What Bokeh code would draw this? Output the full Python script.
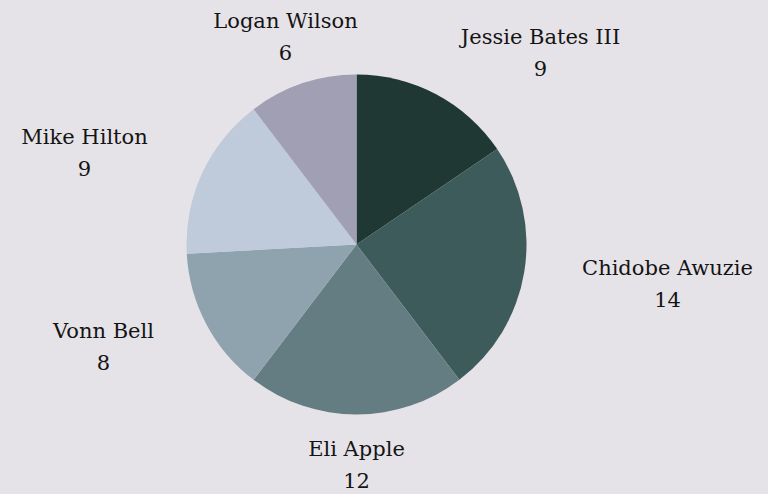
import math
from bokeh.plotting import figure
from bokeh.models import ColumnDataSource, GlobalInlineStyleSheet, Range1d
from bokeh.core.properties import value
from bokeh.embed import file_html
from bokeh.resources import INLINE

# ---- data ----
players = ["Jessie Bates III", "Chidobe Awuzie", "Eli Apple", "Vonn Bell", "Mike Hilton", "Logan Wilson"]
counts = [9, 14, 12, 8, 9, 6]
colors = ["#203833", "#3E5B5B", "#647D82", "#8EA3AE", "#BFCADB", "#A19FB4"]

# ---- layout (pixel coordinates of the picture, converted below) ----
W, H = 768, 494
BG = "#E6E3E8"
cx_px, cy_px, R = 356, 244, 170
label_xy_px = [(540, 36), (667, 267), (356, 448), (103, 330), (84, 136), (285, 20)]
LINE_GAP = 32

def fx(px):
    return px

def fy(py):
    return H - py

total = sum(counts)
starts, ends = [], []
cum = 0
for c in counts:
    starts.append(math.pi / 2 - 2 * math.pi * cum / total)
    cum += c
    ends.append(math.pi / 2 - 2 * math.pi * cum / total)

src = ColumnDataSource(dict(start=starts, end=ends, color=colors))

p = figure(width=W, height=H, output_backend="svg", toolbar_location=None,
           x_range=Range1d(0, W), y_range=Range1d(0, H),
           background_fill_color=BG, border_fill_color=BG,
           min_border=0, outline_line_color=None)
p.axis.visible = False
p.grid.visible = False

p.wedge(x=fx(cx_px), y=fy(cy_px), radius=R, start_angle="start", end_angle="end",
        direction="clock", fill_color="color", line_color=None, source=src)

lab = ColumnDataSource(dict(
    x=[fx(a) for a, b in label_xy_px],
    y1=[fy(b) for a, b in label_xy_px],
    y2=[fy(b + LINE_GAP) for a, b in label_xy_px],
    name=players, val=[str(c) for c in counts]))

common = dict(text_font=value("DejaVu Serif"), text_font_size="21px",
              text_color="#141414", text_align="center", text_baseline="middle", source=lab)
p.text(x="x", y="y1", text="name", **common)
p.text(x="x", y="y2", text="val", **common)

p.stylesheets = [GlobalInlineStyleSheet(css=f"body {{ background: {BG}; margin: 0; overflow: hidden; }}")]

open("out.html", "w").write(file_html(p, INLINE))
